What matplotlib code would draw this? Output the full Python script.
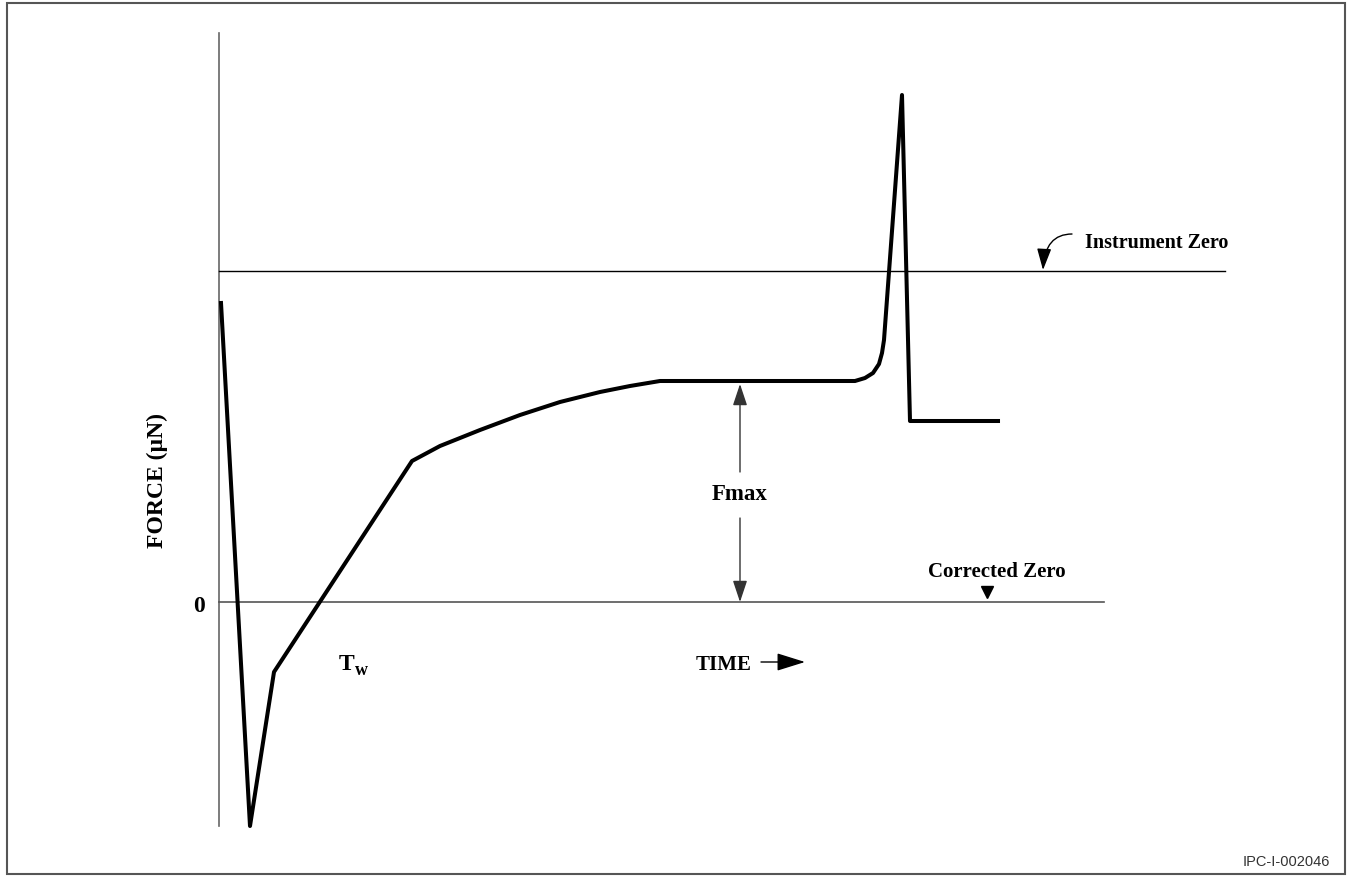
import numpy as np
import matplotlib.pyplot as plt
from matplotlib.patches import Rectangle, FancyArrowPatch
from matplotlib.path import Path

# Force trace (time, force) in arbitrary units, corrected zero = 0
time = [0.2, 3.1, 5.5, 19.3, 22.1, 26.1, 30.1, 34.1, 38.1, 41.1, 44.1,
        62.6, 63.6, 64.6, 65.4, 66.0, 66.3, 66.5, 68.3, 69.1, 77.9]
force = [29.9, -22.4, -7.0, 14.1, 15.6, 17.2, 18.7, 20.0, 21.0, 21.6, 22.1,
         22.1, 22.1, 22.4, 22.9, 23.8, 24.9, 26.2, 50.7, 18.1, 18.1]

instrument_zero = 33.1
corrected_zero = 0.0
f_max = 22.1
t_fmax = 52.1

serif = ["Liberation Serif", "DejaVu Serif"]
head = "-|>,head_length=0.6,head_width=0.2"

fig = plt.figure(figsize=(13.48, 8.77), dpi=100)
ax = fig.add_axes([0, 0, 1, 1])
ax.set_xlim(-21.9, 112.9)
ax.set_ylim(-27.5, 60.2)
ax.axis("off")

# outer frame
fig.patches.append(Rectangle((7 / 1348, 3 / 877), 1338 / 1348, 871 / 877,
                             transform=fig.transFigure, fill=False,
                             edgecolor="#555555", lw=1.5))

# vertical force axis and the two zero lines
ax.plot([0, 0], [-22.4, 56.9], color="#666666", lw=1.2)
ax.plot([0, 100.6], [instrument_zero] * 2, color="black", lw=1.0)
ax.plot([0, 88.5], [corrected_zero] * 2, color="#555555", lw=1.2)

# force trace
ax.plot(time, force, color="black", lw=2.9, solid_joinstyle="round")

# Fmax dimension arrows
ax.annotate("", xy=(t_fmax, f_max - 0.3), xytext=(t_fmax, 13.0),
            arrowprops=dict(arrowstyle=head, color="#333333", lw=1.0,
                            mutation_scale=22, shrinkA=0, shrinkB=0))
ax.annotate("", xy=(t_fmax, corrected_zero), xytext=(t_fmax, 8.4),
            arrowprops=dict(arrowstyle=head, color="#333333", lw=1.0,
                            mutation_scale=22, shrinkA=0, shrinkB=0))
ax.text(t_fmax, 10.7, "Fmax", ha="center", va="center",
        family=serif, fontweight="bold", fontsize=16.5)

# labels
ax.text(-2.0, -0.5, "0", ha="center", va="center",
        family=serif, fontweight="bold", fontsize=17)
ax.text(-6.2, 12.2, "FORCE (\u00b5N)", ha="center", va="center", rotation=90,
        family=serif, fontweight="bold", fontsize=17)
ax.text(12.0, -6.8, "T", ha="left", va="baseline",
        family=serif, fontweight="bold", fontsize=17)
ax.text(13.6, -7.3, "w", ha="left", va="baseline",
        family=serif, fontweight="bold", fontsize=13)
ax.text(50.5, -6.3, "TIME", ha="center", va="center",
        family=serif, fontweight="bold", fontsize=15)
ax.annotate("", xy=(58.6, -6.0), xytext=(54.2, -6.0),
            arrowprops=dict(arrowstyle="-|>,head_length=0.8,head_width=0.25",
                            color="black", lw=1.0, mutation_scale=22,
                            shrinkA=0, shrinkB=0))

# corrected zero marker
ax.text(77.8, 2.5, "Corrected Zero", ha="center", va="baseline",
        family=serif, fontweight="bold", fontsize=15)
ax.plot([76.8], [1.0], marker="v", color="black", markersize=9)

# instrument zero label with curved arrow
ax.text(86.6, 35.9, "Instrument Zero", ha="left", va="center",
        family=serif, fontweight="bold", fontsize=14.5)
bend = Path([(85.3, 36.8), (82.6, 36.8), (82.4, 33.2)],
            [Path.MOVETO, Path.CURVE3, Path.CURVE3])
ax.add_patch(FancyArrowPatch(path=bend, arrowstyle=head, mutation_scale=22,
                             color="black", lw=1.0))

fig.text(1330 / 1348, 1 - 869 / 877, "IPC-I-002046", ha="right", va="bottom",
         family=["Liberation Sans", "DejaVu Sans"], fontsize=10.5, color="#333333")

fig.savefig("out.png", dpi=100)
